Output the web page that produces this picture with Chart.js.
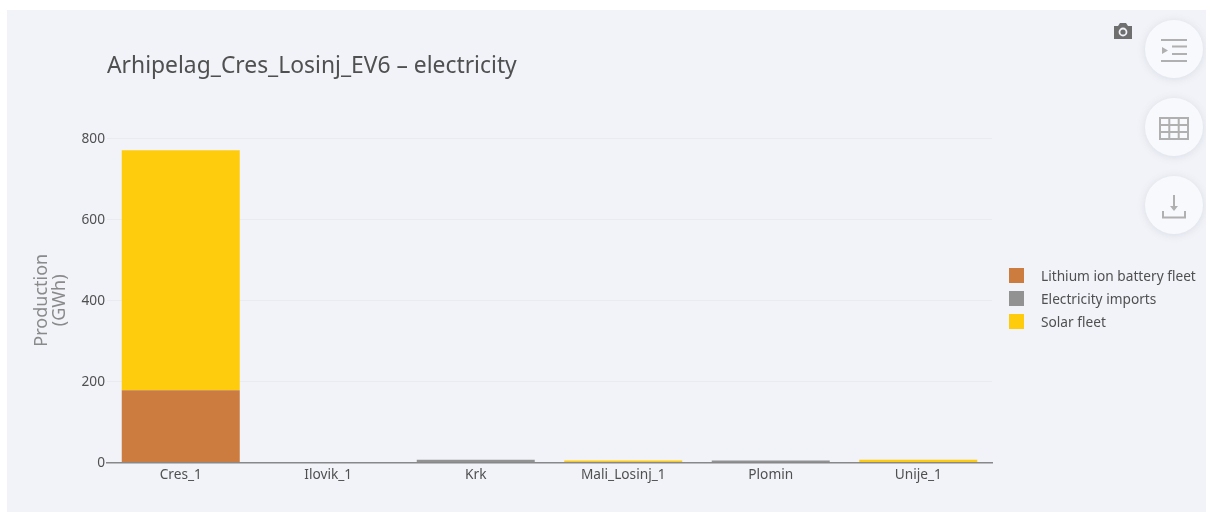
<!DOCTYPE html>
<html>
<head>
<meta charset="utf-8">
<title>Arhipelag_Cres_Losinj_EV6 – electricity</title>
<script src="https://cdn.jsdelivr.net/npm/chart.js@4"></script>
<style>
  html, body { margin:0; padding:0; background:#fff; }
  body { width:1206px; height:512px; overflow:hidden; position:relative; font-family:"Noto Sans", sans-serif; }
  #panel { position:absolute; left:7px; top:10px; width:1199px; height:502px; background:#f1f3f8; }
  #c { position:absolute; left:0; top:0; }
  #title { position:absolute; left:107px; top:48px; font-size:22.85px; line-height:34px; color:#505050; white-space:nowrap; }
  #legend { position:absolute; left:1009px; top:264px; font-size:13.7px; color:#505050; }
  #legend div { height:23px; line-height:23px; white-space:nowrap; position:relative; padding-left:32px; }
  #legend i { position:absolute; left:0; top:4px; width:15px; height:15px; }
  .fab { position:absolute; left:1145px; width:58px; height:58px; border-radius:50%; background:#f8f9fc; box-shadow:0 1px 8px rgba(90,100,130,.14); }
  .fab svg { position:absolute; left:0; top:0; }
  #cam { position:absolute; left:1113px; top:22px; }
</style>
</head>
<body>
<div id="panel"></div>
<canvas id="c" width="1206" height="512"></canvas>
<div id="title">Arhipelag_Cres_Losinj_EV6 – electricity</div>
<div id="legend"></div>

<svg id="cam" width="20" height="18" viewBox="0 0 20 18">
  <path d="M1 4h4l2-3h6l2 3h4v13H1z" fill="#6f6f6f"/>
  <circle cx="10" cy="10" r="4.4" fill="#f1f3f8"/><circle cx="10" cy="10" r="2.6" fill="#6f6f6f"/>
</svg>
<div class="fab" style="top:20px"><svg width="58" height="58" fill="none" stroke="#b0b0b0" stroke-width="2">
  <path d="M16 20h26M27 26.500h15M27 34h15M16 41h26"/><path d="M17 27l6 3.500-6 3.500z" fill="#b0b0b0" stroke="none"/>
</svg></div>
<div class="fab" style="top:98px"><svg width="58" height="58" fill="none" stroke="#b0b0b0" stroke-width="2">
  <path d="M15 20h28v21h-28zM15 27h28M15 34h28M24.300 20v21M33.700 20v21"/>
</svg></div>
<div class="fab" style="top:176px"><svg width="58" height="58" fill="none" stroke="#b0b0b0" stroke-width="2">
  <path d="M29 19v14M18 35v6.500h22v-6.500"/><path d="M25 30h8l-4 5z" fill="#b0b0b0" stroke="none"/>
</svg></div>

<script>
const categories = ['Cres_1','Ilovik_1','Krk','Mali_Losinj_1','Plomin','Unije_1'];
const lithiumBattery = [178, 0, 0, 0, 0, 0];
const electricityImports = [0, 0, 7, 0, 5, 0];
const solarFleet = [592, 0, 0, 5, 0, 7];
const seriesNames = ['Lithium ion battery fleet','Electricity imports','Solar fleet'];
const seriesColors = ['#cb7c3e','#929292','#ffcc0d'];
const yTicks = [0, 200, 400, 600, 800];
const fontFamily = '"Noto Sans", sans-serif';

const datasets = [lithiumBattery, electricityImports, solarFleet].map((d, i) => ({
  label: seriesNames[i], data: d, backgroundColor: seriesColors[i],
  barPercentage: 0.8, categoryPercentage: 1, stack: 's'
}));

document.getElementById('legend').innerHTML = seriesNames.map((n, i) =>
  `<div><i style="background:${seriesColors[i]}"></i>${n}</div>`).join('');

new Chart(document.getElementById('c').getContext('2d'), {
  type: 'bar',
  data: { labels: categories, datasets },
  options: {
    responsive: false, animation: false,
    layout: { padding: { left: 33, top: 138, right: 214, bottom: 0 } },
    plugins: { legend: { display: false }, title: { display: false }, tooltip: { enabled: false } },
    scales: {
      x: {
        stacked: true,
        afterFit: s => { s.height = 49.5; },
        grid: { display: false, drawTicks: false },
        border: { color: '#888', width: 1.5 },
        ticks: { color: '#505050', font: { family: fontFamily, size: 13.7 }, padding: 4, maxRotation: 0 }
      },
      y: {
        stacked: true, min: 0, max: 800,
        afterFit: s => { s.width = 74; },
        afterBuildTicks: s => { s.ticks = yTicks.map(v => ({ value: v })); },
        grid: { color: '#e9ebf1', drawTicks: false },
        border: { display: false },
        ticks: { color: '#505050', font: { family: fontFamily, size: 13.7 }, padding: 2, labelOffset: 1 },
        title: { display: true, text: ['Production','(GWh)'], color: '#8a8a8a', font: { family: fontFamily, size: 18, lineHeight: 1 }, padding: 0 }
      }
    }
  }
});
</script>
</body>
</html>
